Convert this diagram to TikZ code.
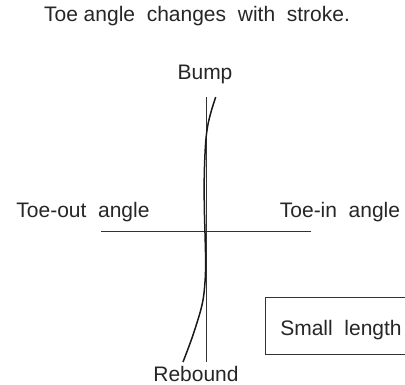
\documentclass[tikz,border=0pt]{standalone}
\usepackage{fontspec}
\setmainfont{Liberation Sans}
\begin{document}
\begin{tikzpicture}[x=1pt,y=-1pt,
  lbl/.style={inner sep=0pt,text=black!85,font=\fontsize{21}{23}\selectfont},
  ln/.style={line width=1pt,black!80}]
\useasboundingbox (0,0) rectangle (405,385);
\node[lbl] (title) at (197,16) {Toe angle\ \ changes\ \ with\ \ stroke.};
\node[lbl] (bump) at (205,74) {Bump};
\node[lbl] (out) at (83,212) {Toe-out\ \ angle};
\node[lbl] (in) at (340,212) {Toe-in\ \ angle};
\node[lbl] (reb) at (196,374) {Rebound};
\coordinate (vt) at (206,97);
\coordinate (vb) at (206,362);
\coordinate (hl) at (101,232);
\coordinate (hr) at (311,232);
\draw[ln] (vt) -- (vb);
\draw[ln] (hl) -- (hr);
\draw[line width=1.5pt,black!90] plot[smooth,tension=0.6] coordinates {(215.7,97) (211,112) (207.5,127) (205.5,145) (204.3,175) (204.3,205) (205,233) (205.6,260) (205,282) (202,305) (193,335) (183,362)};
\draw[ln] (405,298) -| (265,355) -- (405,355);
\node[lbl] (sl) at (341,330) {Small\ \ length};
\end{tikzpicture}
\end{document}
